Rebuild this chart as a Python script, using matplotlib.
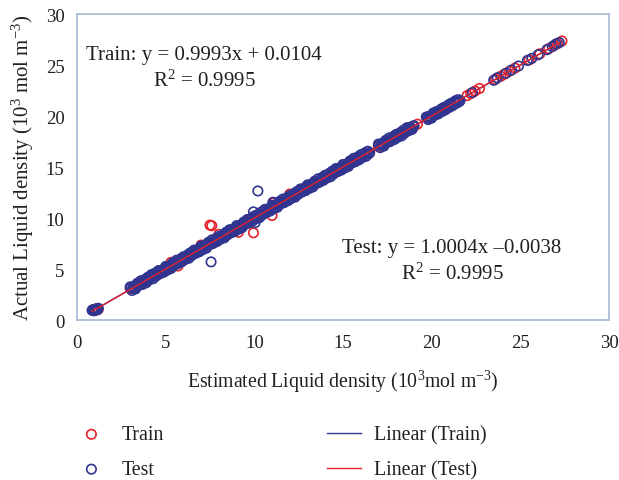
import numpy as np
import matplotlib.pyplot as plt

plt.rcParams['font.family'] = ['Liberation Serif', 'DejaVu Serif']
plt.rcParams['mathtext.fontset'] = 'custom'
plt.rcParams['mathtext.rm'] = 'Liberation Serif'
plt.rcParams['mathtext.default'] = 'regular'

# Estimated vs actual liquid density (10^3 mol m^-3)
train_est = [0.9, 1.0, 1.1, 1.2,
             3.0, 3.3, 3.6, 3.9, 4.2, 4.5, 4.8, 5.1, 5.3, 5.7, 6.0, 6.3, 6.6, 7.0,
             7.5, 7.6, 7.7, 8.0, 8.3, 8.6, 9.1, 9.4, 9.7, 9.95, 10.3, 10.6, 11.0,
             11.1, 11.4, 11.7, 12.0, 12.3, 12.6, 12.9, 13.2, 13.5, 13.8, 14.1, 14.4,
             14.7, 15.0, 15.3, 15.6, 15.9, 16.2, 16.5,
             17.0, 17.4, 17.8, 18.2, 18.6, 19.0, 19.2,
             19.8, 20.2, 20.6, 21.0, 21.4,
             22.0, 22.2, 22.45, 22.7, 23.6, 23.9, 24.1, 24.4, 24.7,
             25.5, 26.1, 26.6, 26.9, 27.1, 27.35]
train_act = [1.0, 0.95, 1.1, 1.05,
             3.1, 3.2, 3.7, 3.8, 4.3, 4.4, 4.9, 5.0, 5.65, 5.3, 6.1, 6.2, 6.7, 7.35,
             9.3, 9.25, 7.6, 8.4, 8.2, 8.7, 8.6, 9.3, 9.8, 8.55, 10.2, 10.7, 10.25,
             11.5, 11.3, 11.8, 12.35, 12.2, 12.7, 12.8, 13.3, 13.4, 13.9, 14.0, 14.5,
             14.6, 15.1, 15.2, 15.7, 15.8, 16.3, 16.4,
             17.0, 17.4, 17.8, 18.2, 18.6, 19.0, 19.2,
             19.8, 20.2, 20.6, 21.0, 21.4,
             22.0, 22.2, 22.45, 22.7, 23.6, 23.9, 24.1, 24.4, 24.7,
             25.5, 26.1, 26.6, 26.9, 27.1, 27.35]

test_est = [0.85, 0.9, 0.95, 1.0, 1.05, 1.1, 1.15, 1.2,
            3.0, 3.1, 3.2, 3.3, 3.4, 3.5, 3.6, 3.7, 3.8, 3.9,
            4.0, 4.1, 4.2, 4.3, 4.4, 4.5, 4.6, 4.7, 4.8, 4.9,
            5.0, 5.1, 5.2, 5.3, 5.4, 5.5, 5.6, 5.7, 5.8, 5.9,
            6.0, 6.1, 6.2, 6.3, 6.4, 6.5, 6.6, 6.7, 6.8, 6.9,
            7.0, 7.1, 7.2, 7.3, 7.4, 7.5, 7.6, 7.7, 7.8, 7.9,
            8.0, 8.1, 8.2, 8.3, 8.4, 8.5, 8.6, 8.7, 8.8, 8.9,
            9.0, 9.1, 9.2, 9.3, 9.4, 9.5, 9.6, 9.7, 9.8, 9.9,
            10.0, 10.1, 10.2, 10.3, 10.4, 10.5, 10.6, 10.7, 10.8, 10.9,
            11.0, 11.1, 11.2, 11.3, 11.4, 11.5, 11.6, 11.7, 11.8, 11.9,
            12.0, 12.1, 12.2, 12.3, 12.4, 12.5, 12.6, 12.7, 12.8, 12.9,
            13.0, 13.1, 13.2, 13.3, 13.4, 13.5, 13.6, 13.7, 13.8, 13.9,
            14.0, 14.1, 14.2, 14.3, 14.4, 14.5, 14.6, 14.7, 14.8, 14.9,
            15.0, 15.1, 15.2, 15.3, 15.4, 15.5, 15.6, 15.7, 15.8, 15.9,
            16.0, 16.1, 16.2, 16.3, 16.4, 16.5,
            17.0, 17.1, 17.2, 17.3, 17.4, 17.5, 17.6, 17.7, 17.8, 17.9,
            18.0, 18.1, 18.2, 18.3, 18.4, 18.5, 18.6, 18.7, 18.8, 18.9, 19.0,
            19.7, 19.8, 19.9, 20.0, 20.1, 20.2, 20.3, 20.4, 20.5, 20.6,
            20.7, 20.8, 20.9, 21.0, 21.1, 21.2, 21.3, 21.4, 21.5, 21.6,
            22.3, 23.5, 23.7, 24.2, 24.5, 24.9, 25.4, 25.65, 26.0,
            26.5, 26.8, 27.0, 27.2,
            7.56, 10.2, 9.95, 10.05, 11.05]
test_act = [0.95, 1.0, 0.9, 1.05, 1.0, 1.1, 1.0, 1.15,
            3.25, 2.9, 3.3, 3.05, 3.6, 3.4, 3.85, 3.5, 3.9, 3.65,
            4.2, 4.0, 4.45, 4.05, 4.6, 4.4, 4.85, 4.55, 4.9, 4.7,
            5.25, 4.9, 5.3, 5.05, 5.6, 5.4, 5.85, 5.55, 5.9, 5.7,
            6.2, 5.95, 6.3, 6.05, 6.6, 6.4, 6.85, 6.55, 6.9, 6.7,
            7.25, 6.9, 7.3, 7.05, 7.6, 7.4, 7.85, 7.55, 7.9, 7.7,
            8.2, 7.95, 8.3, 8.05, 8.6, 8.4, 8.85, 8.55, 8.9, 8.7,
            9.25, 8.9, 9.3, 9.05, 9.6, 9.4, 9.85, 9.55, 9.9, 9.7,
            10.2, 9.95, 10.3, 10.05, 10.6, 10.4, 10.85, 10.55, 10.9, 10.7,
            11.25, 10.9, 11.3, 11.05, 11.6, 11.4, 11.85, 11.55, 11.9, 11.7,
            12.2, 11.95, 12.3, 12.05, 12.6, 12.4, 12.85, 12.55, 12.9, 12.7,
            13.25, 12.9, 13.3, 13.05, 13.6, 13.4, 13.85, 13.55, 13.9, 13.7,
            14.2, 13.95, 14.3, 14.05, 14.6, 14.4, 14.85, 14.55, 14.9, 14.7,
            15.25, 14.9, 15.3, 15.05, 15.6, 15.4, 15.85, 15.55, 15.9, 15.7,
            16.2, 15.95, 16.3, 16.05, 16.55, 16.4,
            17.25, 16.9, 17.3, 17.05, 17.6, 17.4, 17.85, 17.55, 17.9, 17.7,
            18.2, 17.95, 18.3, 18.05, 18.6, 18.4, 18.85, 18.55, 18.9, 18.7, 19.05,
            19.9, 19.65, 20.0, 19.8, 20.3, 20.1, 20.45, 20.25, 20.6, 20.45,
            20.85, 20.65, 20.95, 20.85, 21.25, 21.05, 21.4, 21.25, 21.6, 21.5,
            22.3, 23.5, 23.75, 24.2, 24.5, 24.9, 25.45, 25.65, 26.0,
            26.5, 26.8, 27.05, 27.2,
            5.7, 12.65, 10.6, 9.55, 11.55]

# more test samples lying in the dense part of the band
test_band_est = [3.05, 3.15, 3.25, 3.35, 3.45, 3.55, 3.65, 3.75, 3.85, 3.95,
                 4.05, 4.15, 4.25, 4.35, 4.45, 4.55, 4.65, 4.75, 4.85, 4.95,
                 5.05, 5.15, 5.25, 5.35, 5.45, 5.55, 5.65, 5.75, 5.85, 5.95,
                 6.05, 6.15, 6.25, 6.35, 6.45, 6.55, 6.65, 6.75, 6.85, 6.95,
                 7.05, 7.15, 7.25, 7.35, 7.45, 7.55, 7.65, 7.75, 7.85, 7.95,
                 8.05, 8.15, 8.25, 8.35, 8.45, 8.55, 8.65, 8.75, 8.85, 8.95,
                 9.05, 9.15, 9.25, 9.35, 9.45, 9.55, 9.65, 9.75, 9.85, 9.95,
                 10.05, 10.15, 10.25, 10.35, 10.45, 10.55, 10.65, 10.75, 10.85, 10.95,
                 11.05, 11.15, 11.25, 11.35, 11.45, 11.55, 11.65, 11.75, 11.85, 11.95,
                 12.05, 12.15, 12.25, 12.35, 12.45, 12.55, 12.65, 12.75, 12.85, 12.95,
                 13.05, 13.15, 13.25, 13.35, 13.45, 13.55, 13.65, 13.75, 13.85, 13.95,
                 14.05, 14.15, 14.25, 14.35, 14.45, 14.55, 14.65, 14.75, 14.85, 14.95,
                 15.05, 15.15, 15.25, 15.35, 15.45, 15.55, 15.65, 15.75, 15.85, 15.95,
                 16.05, 16.15, 16.25, 16.35, 16.45,
                 17.05, 17.15, 17.25, 17.35, 17.45, 17.55, 17.65, 17.75, 17.85, 17.95,
                 18.05, 18.15, 18.25, 18.35, 18.45, 18.55, 18.65, 18.75, 18.85, 18.95,
                 19.75, 19.85, 19.95, 20.05, 20.15, 20.25, 20.35, 20.45, 20.55, 20.65,
                 20.75, 20.85, 20.95, 21.05, 21.15, 21.25, 21.35, 21.45, 21.55]
test_band_act = [3.2, 3.1, 3.1, 3.4, 3.6, 3.5, 3.5, 3.8, 4.0, 3.9,
                 3.9, 4.2, 4.4, 4.3, 4.3, 4.6, 4.8, 4.7, 4.7, 5.0,
                 5.2, 5.1, 5.1, 5.4, 5.6, 5.5, 5.5, 5.8, 6.0, 5.9,
                 5.9, 6.2, 6.4, 6.3, 6.3, 6.6, 6.8, 6.7, 6.7, 7.0,
                 7.2, 7.1, 7.1, 7.4, 7.6, 7.5, 7.5, 7.8, 8.0, 7.9,
                 7.9, 8.2, 8.4, 8.3, 8.3, 8.6, 8.8, 8.7, 8.7, 9.0,
                 9.2, 9.1, 9.1, 9.4, 9.6, 9.5, 9.5, 9.8, 10.0, 9.9,
                 9.9, 10.2, 10.4, 10.3, 10.3, 10.6, 10.8, 10.7, 10.7, 11.0,
                 11.2, 11.1, 11.1, 11.4, 11.6, 11.5, 11.5, 11.8, 12.0, 11.9,
                 11.9, 12.2, 12.4, 12.3, 12.3, 12.6, 12.8, 12.7, 12.7, 13.0,
                 13.2, 13.1, 13.1, 13.4, 13.6, 13.5, 13.5, 13.8, 14.0, 13.9,
                 13.9, 14.2, 14.4, 14.3, 14.3, 14.6, 14.8, 14.7, 14.7, 15.0,
                 15.2, 15.1, 15.1, 15.4, 15.6, 15.5, 15.5, 15.8, 16.0, 15.9,
                 15.9, 16.2, 16.4, 16.3, 16.3,
                 17.2, 17.1, 17.1, 17.4, 17.6, 17.5, 17.5, 17.8, 18.0, 17.9,
                 17.9, 18.2, 18.4, 18.3, 18.3, 18.6, 18.8, 18.7, 18.7, 19.0,
                 19.9, 19.8, 19.8, 20.1, 20.3, 20.2, 20.2, 20.5, 20.7, 20.6,
                 20.6, 20.9, 21.1, 21.0, 21.0, 21.3, 21.5, 21.4, 21.4]

# trend line coefficients (slope, intercept)
train_fit = [0.9993, 0.0104]
test_fit = [1.0004, -0.0038]

red = '#e5222b'
blue = '#2f3590'
frame = '#a4b8d2'
ink = '#231f20'

fig = plt.figure(figsize=(6.19, 4.81), dpi=100)
ax = fig.add_axes([0.1244, 0.3326, 0.8594, 0.6362])

sc_train = ax.scatter(train_est, train_act, s=46, facecolors='none',
                      edgecolors=red, linewidths=1.2, label='Train', zorder=2)
sc_test = ax.scatter(test_est + test_band_est, test_act + test_band_act, s=46,
                     facecolors='none', edgecolors=blue, linewidths=1.2,
                     label='Test', zorder=3)

xt = np.array([min(train_est), max(train_est)])
ln_train, = ax.plot(xt, train_fit[0] * xt + train_fit[1], color=blue, lw=1.0,
                    label='Linear (Train)', zorder=4)
xs = np.array([min(test_est), max(test_est)])
ln_test, = ax.plot(xs, test_fit[0] * xs + test_fit[1], color=red, lw=1.0,
                   label='Linear (Test)', zorder=5)

ax.set_xlim(0, 30)
ax.set_ylim(0, 30)
ax.set_xticks(range(0, 31, 5))
ax.set_yticks(range(0, 31, 5))
ax.tick_params(length=0, labelsize=13.5, colors=ink)
ax.tick_params(axis='x', pad=10)
ax.tick_params(axis='y', pad=9)
for sp in ax.spines.values():
    sp.set_color(frame)
    sp.set_linewidth(1.2)

ax.set_xlabel('Estimated Liquid density (10$^3$mol m$^{-3}$)', fontsize=14.2,
              color=ink, labelpad=12)
ax.set_ylabel('Actual Liquid density (10$^3$ mol m$^{-3}$)', fontsize=15,
              color=ink, labelpad=7)

ax.text(7.16, 24.7, 'Train: y = 0.9993x + 0.0104\nR$^2$ = 0.9995', fontsize=15,
        ha='center', va='center', linespacing=1.38, color=ink)
ax.text(21.15, 5.8, 'Test: y = 1.0004x \u20130.0038\nR$^2$ = 0.9995', fontsize=15,
        ha='center', va='center', linespacing=1.38, color=ink)

fig.legend([sc_train, sc_test, ln_train, ln_test],
           ['Train', 'Test', 'Linear (Train)', 'Linear (Test)'], ncol=2,
           loc='upper left', bbox_to_anchor=(0.0915, 0.151), frameon=False,
           fontsize=14.3, handlelength=1.7, handletextpad=0.67,
           columnspacing=8.2, labelspacing=0.8, labelcolor=ink)

fig.savefig('out.png', dpi=100)
